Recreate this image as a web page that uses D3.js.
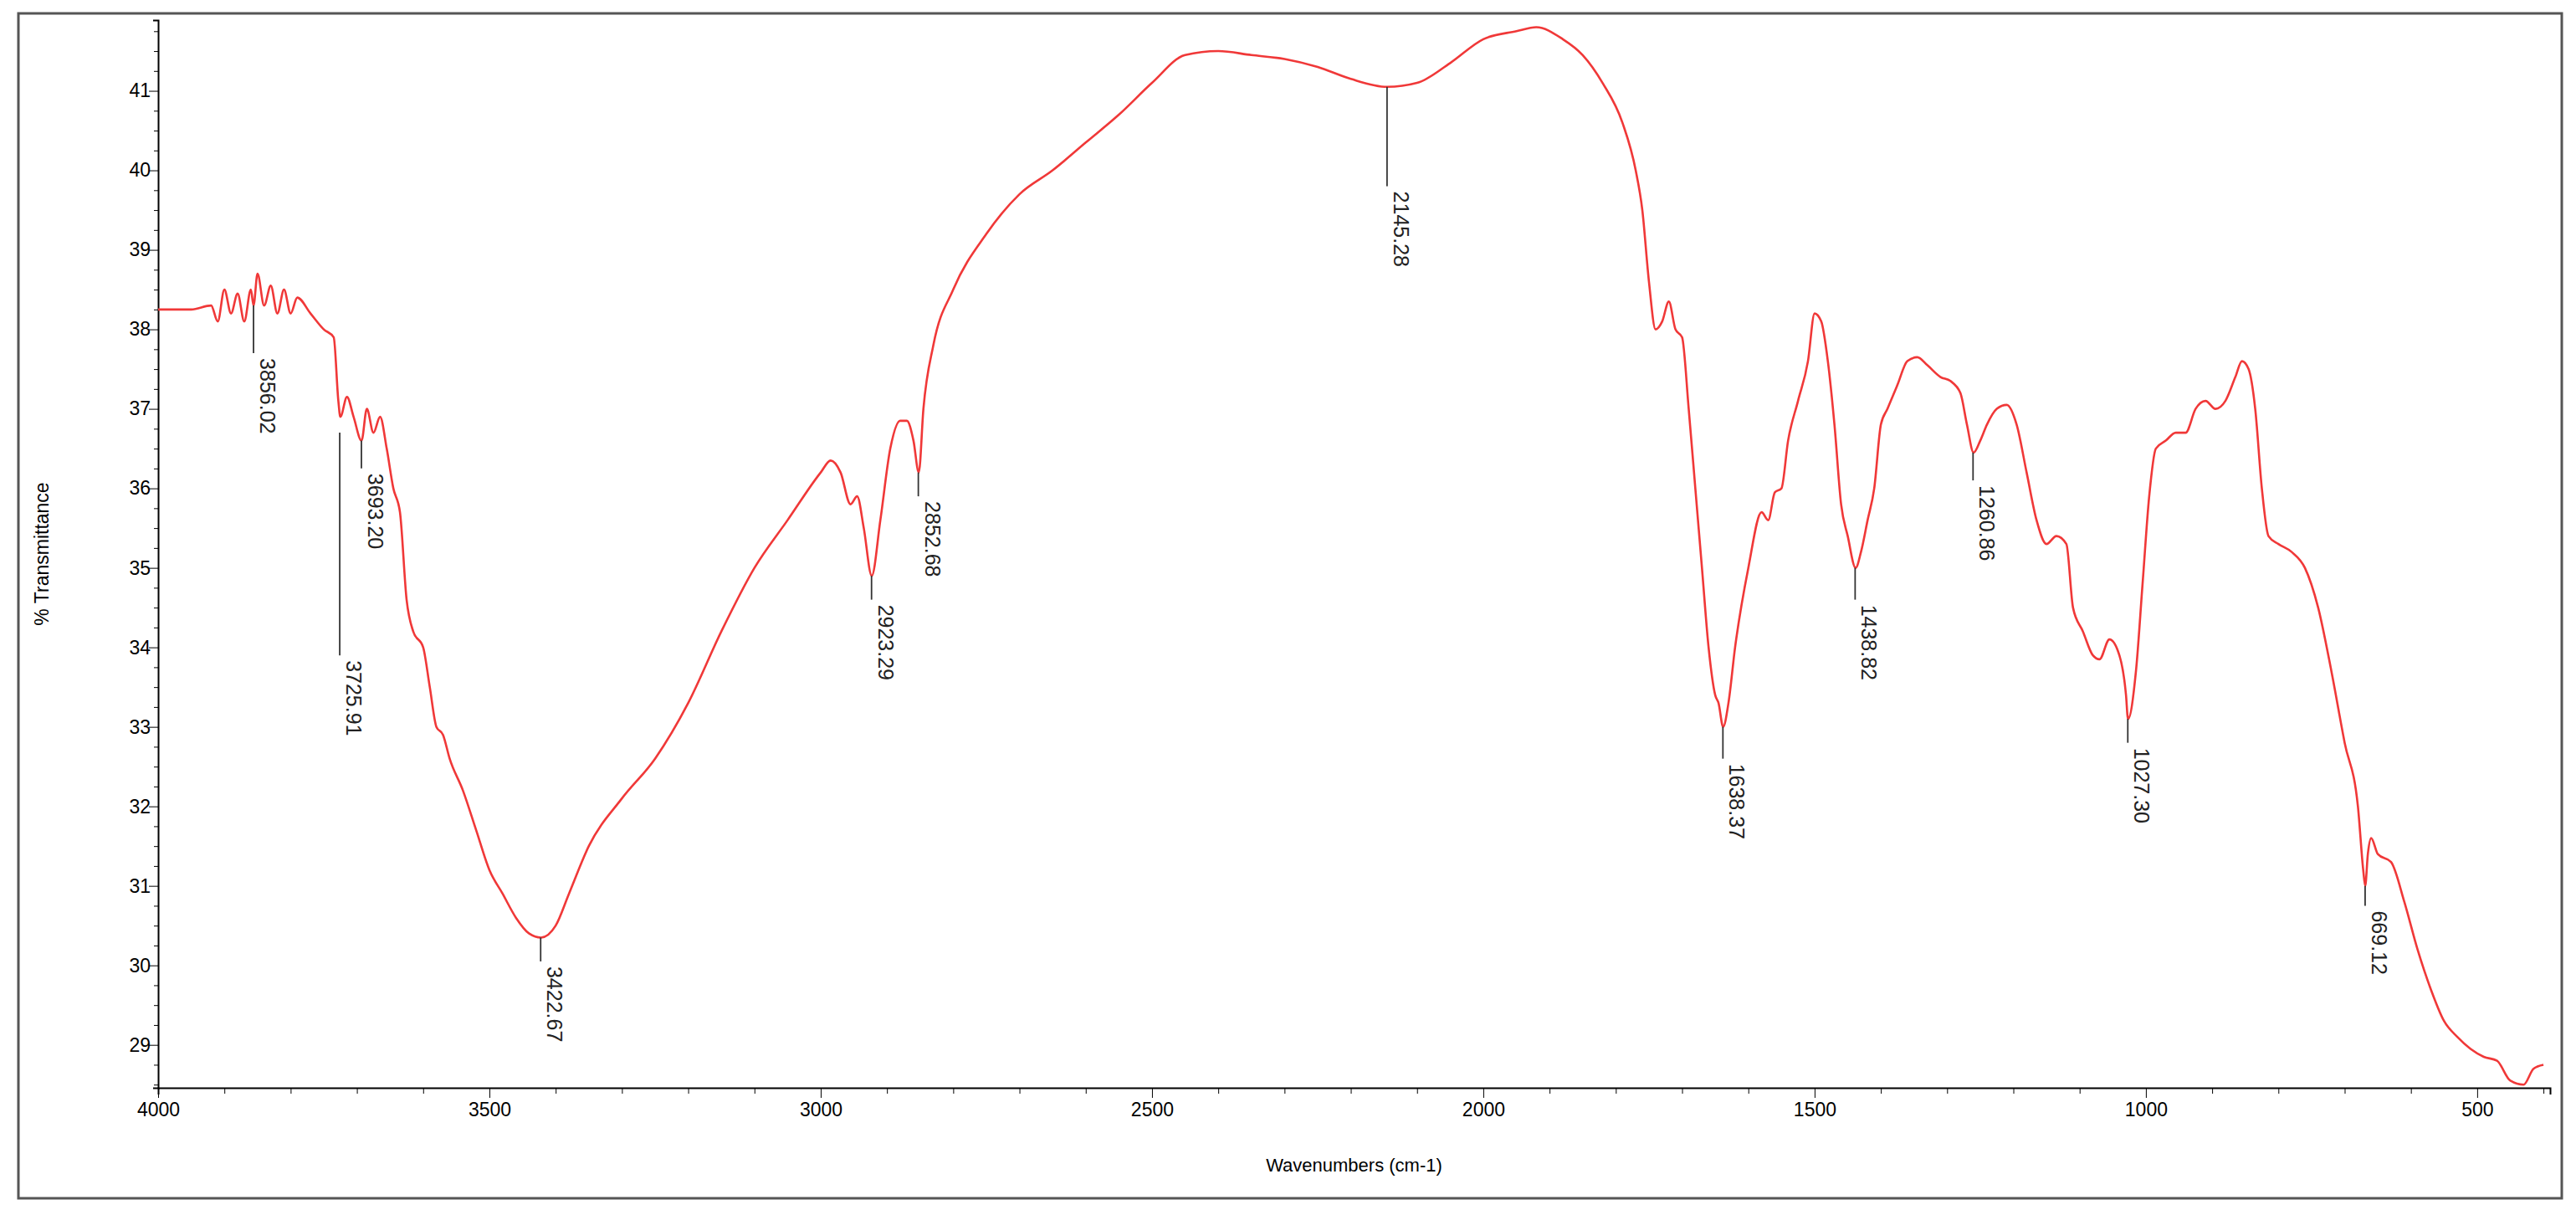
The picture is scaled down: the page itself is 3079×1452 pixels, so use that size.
<!DOCTYPE html>
<html>
<head>
<script src="https://d3js.org/d3.v7.min.js"></script>
<style>
  body { margin: 0; background: #fff; }
  text { font-family: "Liberation Sans", Arial, sans-serif; }
</style>
</head>
<body>
<svg width="3079" height="1452"></svg>
<script>
// spectrum: wavenumber (cm-1) and % transmittance
const wavenumbers = [4000,3950,3920,3910,3900,3890,3880,3870,3860,3856,3850,3840,3830,3820,3810,3800,3790,3770,3750,3735,3728,3725,3715,3705,3693,3685,3675,3665,3655,3645,3635,3625,3615,3600,3590,3580,3570,3560,3540,3520,3500,3480,3460,3440,3422,3400,3380,3350,3300,3250,3200,3150,3100,3050,3000,2985,2970,2955,2945,2935,2923,2910,2895,2880,2870,2860,2852,2845,2830,2800,2750,2700,2650,2600,2550,2500,2450,2400,2350,2300,2250,2200,2145,2100,2050,2000,1950,1920,1880,1850,1820,1790,1770,1760,1750,1740,1730,1720,1710,1700,1690,1680,1670,1660,1650,1645,1638,1630,1620,1600,1580,1570,1560,1550,1540,1525,1510,1500,1490,1480,1470,1460,1450,1438,1430,1420,1410,1400,1390,1375,1360,1345,1330,1310,1295,1280,1270,1260,1250,1240,1225,1210,1195,1180,1165,1150,1135,1120,1110,1095,1080,1070,1055,1040,1030,1027,1015,1005,995,985,970,955,940,925,910,895,880,865,855,845,835,825,815,800,780,760,740,720,700,680,672,669,665,660,650,630,610,590,570,550,530,510,490,470,450,430,415,400];
const transmittance = [38.25,38.25,38.3,38.1,38.5,38.2,38.45,38.1,38.5,38.3,38.7,38.3,38.55,38.2,38.5,38.2,38.4,38.2,38.0,37.9,37.1,36.9,37.15,36.9,36.6,37.0,36.7,36.9,36.5,36.0,35.7,34.6,34.2,34.0,33.5,33.0,32.9,32.6,32.2,31.7,31.2,30.9,30.6,30.4,30.35,30.5,30.9,31.5,32.1,32.6,33.3,34.2,35.0,35.6,36.2,36.35,36.2,35.8,35.9,35.5,34.9,35.6,36.5,36.85,36.85,36.6,36.2,37.0,37.8,38.5,39.2,39.7,40.0,40.35,40.7,41.1,41.45,41.5,41.45,41.4,41.3,41.15,41.05,41.1,41.35,41.65,41.75,41.8,41.65,41.45,41.1,40.6,40.0,39.5,38.6,38.0,38.1,38.35,38.0,37.9,37.0,36.0,35.0,34.0,33.4,33.3,33.0,33.3,34.0,35.0,35.7,35.6,35.95,36.0,36.6,37.1,37.6,38.2,38.1,37.6,36.8,35.8,35.4,35.0,35.2,35.6,36.0,36.8,37.0,37.3,37.6,37.65,37.55,37.4,37.35,37.2,36.8,36.45,36.6,36.8,37.0,37.05,36.8,36.2,35.6,35.3,35.4,35.3,34.5,34.2,33.9,33.85,34.1,33.9,33.4,33.1,33.7,34.8,35.9,36.5,36.6,36.7,36.7,37.0,37.1,37.0,37.1,37.4,37.6,37.5,37.0,36.0,35.4,35.3,35.2,35.0,34.5,33.7,32.8,32.0,31.2,31.0,31.4,31.6,31.4,31.3,30.8,30.2,29.7,29.3,29.1,28.95,28.85,28.8,28.55,28.5,28.7,28.75];

// peak picks: position, leader top, leader bottom
const peakLabels = ["3856.02","3725.91","3693.20","3422.67","2923.29","2852.68","2145.28","1638.37","1438.82","1260.86","1027.30","669.12"];
const peakWn     = [3856.02,3725.91,3693.20,3422.67,2923.29,2852.68,2145.28,1638.37,1438.82,1260.86,1027.30,669.12];
const peakTop    = [38.3,36.7,36.6,30.35,34.9,36.2,41.05,33.0,35.0,36.45,33.1,31.0];
const peakBottom = [37.7,33.9,36.25,30.05,34.6,35.9,39.8,32.6,34.6,36.1,32.8,30.75];

const xTicks = [4000,3500,3000,2500,2000,1500,1000,500];
const yTicks = [29,30,31,32,33,34,35,36,37,38,39,40,41];

const svg = d3.select("svg");
const mLeft = 189, mRight = 3048, mTop = 24, mBottom = 1300;

svg.append("rect").attr("x", 22).attr("y", 16).attr("width", 3040).attr("height", 1416)
  .attr("fill", "none").attr("stroke", "#555").attr("stroke-width", 3);

const x = d3.scaleLinear().domain([4000, 390]).range([mLeft, mRight]);
const y = d3.scaleLinear().domain([28.46, 41.89]).range([mBottom, mTop]);

// axes
const gx = svg.append("g").attr("transform", `translate(0,${mBottom})`)
  .call(d3.axisBottom(x).tickValues(d3.range(4000, 390, -100)).tickSize(8)
    .tickFormat(d => xTicks.includes(d) ? d : ""));
gx.selectAll(".tick line").attr("y2", d => xTicks.includes(d) ? 12 : 7);
gx.select(".domain").attr("stroke-width", 2);
gx.selectAll("text").attr("font-size", 23).attr("dy", "1em");

const gy = svg.append("g").attr("transform", `translate(${mLeft},0)`)
  .call(d3.axisLeft(y).tickValues(d3.range(28.5, 41.9, 0.25)).tickSize(6)
    .tickFormat(d => yTicks.includes(d) ? d : ""));
gy.selectAll(".tick line").attr("x2", d => yTicks.includes(d) ? -11 : -5);
gy.select(".domain").attr("stroke-width", 2);
gy.selectAll("text").attr("font-size", 23);

svg.append("text").attr("x", (mLeft + mRight) / 2).attr("y", 1400).attr("text-anchor", "middle")
  .attr("font-size", 22).text("Wavenumbers (cm-1)");
svg.append("text").attr("transform", `translate(58,${(mTop + mBottom) / 2}) rotate(-90)`)
  .attr("text-anchor", "middle").attr("font-size", 23).text("% Transmittance");

// spectrum
const pts = wavenumbers.map((w, i) => [w, transmittance[i]]);
svg.append("path").datum(pts)
  .attr("fill", "none").attr("stroke", "#f03838").attr("stroke-width", 2.6)
  .attr("d", d3.line().x(d => x(d[0])).y(d => y(d[1])).curve(d3.curveMonotoneX));

// peak annotations
peakLabels.forEach((lab, i) => {
  const px = x(peakWn[i]);
  svg.append("line").attr("x1", px).attr("x2", px)
    .attr("y1", y(peakTop[i])).attr("y2", y(peakBottom[i]))
    .attr("stroke", "#333").attr("stroke-width", 1.8);
  svg.append("text").attr("transform", `translate(${px + 8},${y(peakBottom[i]) + 6}) rotate(90)`)
    .attr("font-size", 25).attr("fill", "#222").text(lab);
});
</script>
</body>
</html>
